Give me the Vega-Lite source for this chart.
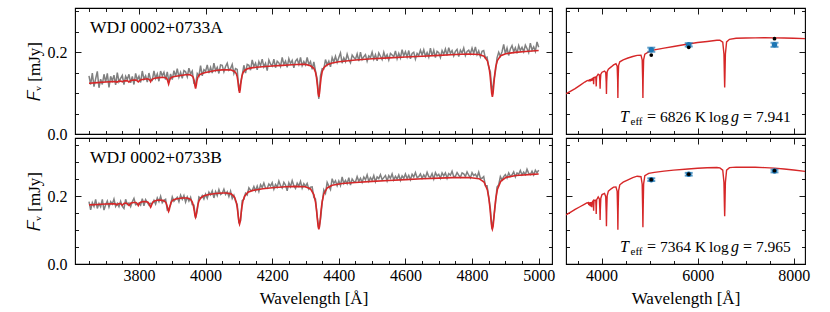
{
"$schema": "https://vega.github.io/schema/vega-lite/v6.json",
"background": "white",
"padding": {"left": 24, "top": 2, "right": 10, "bottom": 2},
"config": {
  "view": {"stroke": "#000", "strokeWidth": 1.1},
  "axis": {"grid": false, "domain": false, "ticks": true, "tickColor": "#000", "tickWidth": 0.9,
    "labelFont": "Liberation Serif", "labelFontSize": 16, "labelColor": "#000",
    "titleFont": "Liberation Serif", "titleFontSize": 17, "titleFontWeight": "normal", "titleColor": "#000",
    "labelFlush": false, "labelOverlap": false},
  "text": {"font": "Liberation Serif", "color": "#000"}
},
"datasets": {
"specA": [{"w":3650,"f":0.142},{"w":3655,"f":0.121},{"w":3660,"f":0.149},{"w":3665,"f":0.116},{"w":3670,"f":0.135},{"w":3675,"f":0.153},{"w":3680,"f":0.113},{"w":3685,"f":0.134},{"w":3690,"f":0.121},{"w":3695,"f":0.146},
{"w":3700,"f":0.127},{"w":3705,"f":0.148},{"w":3710,"f":0.114},{"w":3715,"f":0.141},{"w":3720,"f":0.130},{"w":3725,"f":0.144},{"w":3730,"f":0.120},{"w":3735,"f":0.150},{"w":3740,"f":0.128},{"w":3745,"f":0.136},
{"w":3750,"f":0.143},{"w":3755,"f":0.121},{"w":3760,"f":0.141},{"w":3765,"f":0.133},{"w":3770,"f":0.146},{"w":3775,"f":0.125},{"w":3780,"f":0.141},{"w":3785,"f":0.121},{"w":3790,"f":0.148},{"w":3795,"f":0.132},
{"w":3800,"f":0.141},{"w":3805,"f":0.126},{"w":3810,"f":0.154},{"w":3815,"f":0.134},{"w":3820,"f":0.142},{"w":3825,"f":0.127},{"w":3830,"f":0.149},{"w":3835,"f":0.133},{"w":3840,"f":0.131},{"w":3845,"f":0.154},
{"w":3850,"f":0.136},{"w":3855,"f":0.147},{"w":3860,"f":0.129},{"w":3865,"f":0.154},{"w":3870,"f":0.142},{"w":3875,"f":0.151},{"w":3880,"f":0.133},{"w":3885,"f":0.152},{"w":3890,"f":0.127},{"w":3895,"f":0.147},
{"w":3900,"f":0.133},{"w":3905,"f":0.155},{"w":3910,"f":0.141},{"w":3915,"f":0.160},{"w":3920,"f":0.139},{"w":3925,"f":0.151},{"w":3930,"f":0.136},{"w":3935,"f":0.155},{"w":3940,"f":0.152},{"w":3945,"f":0.140},
{"w":3950,"f":0.161},{"w":3955,"f":0.147},{"w":3960,"f":0.154},{"w":3965,"f":0.124},{"w":3970,"f":0.121},{"w":3975,"f":0.148},{"w":3980,"f":0.142},{"w":3985,"f":0.167},{"w":3990,"f":0.142},{"w":3995,"f":0.157},
{"w":4000,"f":0.153},{"w":4005,"f":0.169},{"w":4010,"f":0.149},{"w":4015,"f":0.163},{"w":4020,"f":0.149},{"w":4025,"f":0.173},{"w":4030,"f":0.155},{"w":4035,"f":0.163},{"w":4040,"f":0.148},{"w":4045,"f":0.169},
{"w":4050,"f":0.168},{"w":4055,"f":0.152},{"w":4060,"f":0.165},{"w":4065,"f":0.173},{"w":4070,"f":0.156},{"w":4075,"f":0.160},{"w":4080,"f":0.170},{"w":4085,"f":0.148},{"w":4090,"f":0.160},{"w":4095,"f":0.158},
{"w":4100,"f":0.106},{"w":4105,"f":0.124},{"w":4110,"f":0.144},{"w":4115,"f":0.168},{"w":4120,"f":0.149},{"w":4125,"f":0.170},{"w":4130,"f":0.168},{"w":4135,"f":0.156},{"w":4140,"f":0.181},{"w":4145,"f":0.165},
{"w":4150,"f":0.173},{"w":4155,"f":0.157},{"w":4160,"f":0.177},{"w":4165,"f":0.167},{"w":4170,"f":0.183},{"w":4175,"f":0.164},{"w":4180,"f":0.173},{"w":4185,"f":0.155},{"w":4190,"f":0.181},{"w":4195,"f":0.171},
{"w":4200,"f":0.166},{"w":4205,"f":0.183},{"w":4210,"f":0.162},{"w":4215,"f":0.178},{"w":4220,"f":0.174},{"w":4225,"f":0.165},{"w":4230,"f":0.187},{"w":4235,"f":0.170},{"w":4240,"f":0.178},{"w":4245,"f":0.163},
{"w":4250,"f":0.184},{"w":4255,"f":0.172},{"w":4260,"f":0.180},{"w":4265,"f":0.162},{"w":4270,"f":0.178},{"w":4275,"f":0.183},{"w":4280,"f":0.170},{"w":4285,"f":0.187},{"w":4290,"f":0.167},{"w":4295,"f":0.177},
{"w":4300,"f":0.169},{"w":4305,"f":0.187},{"w":4310,"f":0.170},{"w":4315,"f":0.177},{"w":4320,"f":0.158},{"w":4325,"f":0.176},{"w":4330,"f":0.154},{"w":4335,"f":0.134},{"w":4340,"f":0.086},{"w":4345,"f":0.143},
{"w":4350,"f":0.160},{"w":4355,"f":0.159},{"w":4360,"f":0.182},{"w":4365,"f":0.169},{"w":4370,"f":0.178},{"w":4375,"f":0.164},{"w":4380,"f":0.187},{"w":4385,"f":0.176},{"w":4390,"f":0.190},{"w":4395,"f":0.175},
{"w":4400,"f":0.187},{"w":4405,"f":0.198},{"w":4410,"f":0.173},{"w":4415,"f":0.186},{"w":4420,"f":0.177},{"w":4425,"f":0.195},{"w":4430,"f":0.182},{"w":4435,"f":0.174},{"w":4440,"f":0.193},{"w":4445,"f":0.187},
{"w":4450,"f":0.183},{"w":4455,"f":0.196},{"w":4460,"f":0.178},{"w":4465,"f":0.200},{"w":4470,"f":0.182},{"w":4475,"f":0.189},{"w":4480,"f":0.194},{"w":4485,"f":0.178},{"w":4490,"f":0.191},{"w":4495,"f":0.187},
{"w":4500,"f":0.200},{"w":4505,"f":0.183},{"w":4510,"f":0.194},{"w":4515,"f":0.179},{"w":4520,"f":0.198},{"w":4525,"f":0.190},{"w":4530,"f":0.182},{"w":4535,"f":0.200},{"w":4540,"f":0.186},{"w":4545,"f":0.194},
{"w":4550,"f":0.181},{"w":4555,"f":0.197},{"w":4560,"f":0.193},{"w":4565,"f":0.189},{"w":4570,"f":0.203},{"w":4575,"f":0.184},{"w":4580,"f":0.197},{"w":4585,"f":0.186},{"w":4590,"f":0.206},{"w":4595,"f":0.191},
{"w":4600,"f":0.201},{"w":4605,"f":0.188},{"w":4610,"f":0.204},{"w":4615,"f":0.184},{"w":4620,"f":0.197},{"w":4625,"f":0.200},{"w":4630,"f":0.183},{"w":4635,"f":0.197},{"w":4640,"f":0.192},{"w":4645,"f":0.205},
{"w":4650,"f":0.193},{"w":4655,"f":0.206},{"w":4660,"f":0.190},{"w":4665,"f":0.199},{"w":4670,"f":0.188},{"w":4675,"f":0.210},{"w":4680,"f":0.191},{"w":4685,"f":0.205},{"w":4690,"f":0.187},{"w":4695,"f":0.202},
{"w":4700,"f":0.199},{"w":4705,"f":0.187},{"w":4710,"f":0.204},{"w":4715,"f":0.195},{"w":4720,"f":0.208},{"w":4725,"f":0.192},{"w":4730,"f":0.211},{"w":4735,"f":0.197},{"w":4740,"f":0.204},{"w":4745,"f":0.191},
{"w":4750,"f":0.202},{"w":4755,"f":0.207},{"w":4760,"f":0.189},{"w":4765,"f":0.205},{"w":4770,"f":0.198},{"w":4775,"f":0.210},{"w":4780,"f":0.192},{"w":4785,"f":0.202},{"w":4790,"f":0.205},{"w":4795,"f":0.196},
{"w":4800,"f":0.210},{"w":4805,"f":0.197},{"w":4810,"f":0.213},{"w":4815,"f":0.194},{"w":4820,"f":0.203},{"w":4825,"f":0.189},{"w":4830,"f":0.202},{"w":4835,"f":0.204},{"w":4840,"f":0.186},{"w":4845,"f":0.188},
{"w":4850,"f":0.163},{"w":4855,"f":0.152},{"w":4860,"f":0.098},{"w":4865,"f":0.129},{"w":4870,"f":0.152},{"w":4875,"f":0.186},{"w":4880,"f":0.200},{"w":4885,"f":0.190},{"w":4890,"f":0.201},{"w":4895,"f":0.219},
{"w":4900,"f":0.196},{"w":4905,"f":0.210},{"w":4910,"f":0.192},{"w":4915,"f":0.208},{"w":4920,"f":0.216},{"w":4925,"f":0.201},{"w":4930,"f":0.211},{"w":4935,"f":0.197},{"w":4940,"f":0.216},{"w":4945,"f":0.204},
{"w":4950,"f":0.212},{"w":4955,"f":0.201},{"w":4960,"f":0.217},{"w":4965,"f":0.209},{"w":4970,"f":0.199},{"w":4975,"f":0.222},{"w":4980,"f":0.205},{"w":4985,"f":0.213},{"w":4990,"f":0.202},{"w":4995,"f":0.225},
{"w":5000,"f":0.212}],
"modA": [{"w":3650,"m":0.124},{"w":3675,"m":0.1255},{"w":3700,"m":0.127},{"w":3720,"m":0.128},{"w":3730,"m":0.1283},{"w":3734,"m":0.1265},{"w":3738,"m":0.1287},{"w":3746,"m":0.1292},{"w":3750,"m":0.1275},{"w":3754,"m":0.1297},{"w":3764,"m":0.1305},{"w":3768,"m":0.1287},{"w":3770,"m":0.127},{"w":3772,"m":0.1288},{"w":3776,"m":0.1308},{"w":3785,"m":0.1318},{"w":3792,"m":0.1318},{"w":3795,"m":0.1296},{"w":3798,"m":0.1273},{"w":3801,"m":0.1298},{"w":3806,"m":0.1326},{"w":3815,"m":0.1337},{"w":3825,"m":0.1349},{"w":3831,"m":0.1335},{"w":3833,"m":0.1308},{"w":3835,"m":0.1278},{"w":3837,"m":0.1308},{"w":3839,"m":0.1336},{"w":3847,"m":0.1363},{"w":3860,"m":0.1378},{"w":3872,"m":0.1386},{"w":3882,"m":0.1367},{"w":3885,"m":0.1333},{"w":3887,"m":0.1274},{"w":3889,"m":0.1218},{"w":3891,"m":0.1276},{"w":3893,"m":0.1336},{"w":3896,"m":0.1375},{"w":3903,"m":0.1398},{"w":3920,"m":0.1422},{"w":3940,"m":0.1448},{"w":3950,"m":0.1453},{"w":3958,"m":0.1432},{"w":3963,"m":0.1385},{"w":3966,"m":0.1295},{"w":3968,"m":0.1184},{"w":3970,"m":0.111},{"w":3972,"m":0.1186},{"w":3974,"m":0.1298},{"w":3977,"m":0.1392},{"w":3982,"m":0.1448},{"w":3990,"m":0.1478},{"w":4000,"m":0.1502},{"w":4015,"m":0.1528},{"w":4030,"m":0.1552},{"w":4050,"m":0.1568},{"w":4065,"m":0.1572},{"w":4077,"m":0.1565},{"w":4087,"m":0.1528},{"w":4092,"m":0.1478},{"w":4095,"m":0.1398},{"w":4098,"m":0.1238},{"w":4100,"m":0.109},{"w":4102,"m":0.1008},{"w":4104,"m":0.1092},{"w":4106,"m":0.1244},{"w":4109,"m":0.1408},{"w":4112,"m":0.1492},{"w":4117,"m":0.1553},{"w":4127,"m":0.1598},{"w":4142,"m":0.1622},{"w":4170,"m":0.1645},{"w":4200,"m":0.1662},{"w":4230,"m":0.1677},{"w":4260,"m":0.1693},{"w":4285,"m":0.1705},{"w":4300,"m":0.1702},{"w":4315,"m":0.1668},{"w":4325,"m":0.1607},{"w":4330,"m":0.1508},{"w":4333,"m":0.1378},{"w":4336,"m":0.1162},{"w":4338,"m":0.0995},{"w":4340,"m":0.091},{"w":4342,"m":0.0998},{"w":4344,"m":0.1168},{"w":4347,"m":0.1387},{"w":4350,"m":0.1522},{"w":4355,"m":0.1622},{"w":4365,"m":0.1692},{"w":4380,"m":0.1735},{"w":4400,"m":0.1768},{"w":4450,"m":0.1808},{"w":4500,"m":0.1838},{"w":4550,"m":0.1862},{"w":4600,"m":0.1882},{"w":4650,"m":0.1902},{"w":4700,"m":0.1922},{"w":4750,"m":0.1942},{"w":4790,"m":0.1955},{"w":4821,"m":0.1945},{"w":4836,"m":0.1902},{"w":4846,"m":0.1789},{"w":4851,"m":0.1628},{"w":4854,"m":0.1445},{"w":4857,"m":0.1174},{"w":4859,"m":0.0992},{"w":4861,"m":0.091},{"w":4863,"m":0.0995},{"w":4865,"m":0.1178},{"w":4868,"m":0.145},{"w":4871,"m":0.1635},{"w":4876,"m":0.1797},{"w":4886,"m":0.1915},{"w":4901,"m":0.1962},{"w":4930,"m":0.1995},{"w":4960,"m":0.2017},{"w":5000,"m":0.204}],
"specB": [{"w":3650,"f":0.184},{"w":3655,"f":0.160},{"w":3660,"f":0.181},{"w":3665,"f":0.170},{"w":3670,"f":0.191},{"w":3675,"f":0.164},{"w":3680,"f":0.179},{"w":3685,"f":0.169},{"w":3690,"f":0.191},{"w":3695,"f":0.159},
{"w":3700,"f":0.175},{"w":3705,"f":0.186},{"w":3710,"f":0.168},{"w":3715,"f":0.184},{"w":3720,"f":0.177},{"w":3725,"f":0.192},{"w":3730,"f":0.170},{"w":3735,"f":0.179},{"w":3740,"f":0.169},{"w":3745,"f":0.185},
{"w":3750,"f":0.170},{"w":3755,"f":0.164},{"w":3760,"f":0.191},{"w":3765,"f":0.176},{"w":3770,"f":0.180},{"w":3775,"f":0.169},{"w":3780,"f":0.184},{"w":3785,"f":0.194},{"w":3790,"f":0.175},{"w":3795,"f":0.177},
{"w":3800,"f":0.180},{"w":3805,"f":0.174},{"w":3810,"f":0.193},{"w":3815,"f":0.172},{"w":3820,"f":0.190},{"w":3825,"f":0.182},{"w":3830,"f":0.174},{"w":3835,"f":0.179},{"w":3840,"f":0.178},{"w":3845,"f":0.188},
{"w":3850,"f":0.177},{"w":3855,"f":0.195},{"w":3860,"f":0.184},{"w":3865,"f":0.200},{"w":3870,"f":0.181},{"w":3875,"f":0.188},{"w":3880,"f":0.191},{"w":3885,"f":0.160},{"w":3890,"f":0.164},{"w":3895,"f":0.175},
{"w":3900,"f":0.198},{"w":3905,"f":0.185},{"w":3910,"f":0.191},{"w":3915,"f":0.197},{"w":3920,"f":0.184},{"w":3925,"f":0.203},{"w":3930,"f":0.191},{"w":3935,"f":0.202},{"w":3940,"f":0.183},{"w":3945,"f":0.198},
{"w":3950,"f":0.186},{"w":3955,"f":0.197},{"w":3960,"f":0.175},{"w":3965,"f":0.174},{"w":3970,"f":0.136},{"w":3975,"f":0.159},{"w":3980,"f":0.198},{"w":3985,"f":0.194},{"w":3990,"f":0.202},{"w":3995,"f":0.192},
{"w":4000,"f":0.206},{"w":4005,"f":0.194},{"w":4010,"f":0.212},{"w":4015,"f":0.204},{"w":4020,"f":0.216},{"w":4025,"f":0.195},{"w":4030,"f":0.214},{"w":4035,"f":0.202},{"w":4040,"f":0.220},{"w":4045,"f":0.205},
{"w":4050,"f":0.209},{"w":4055,"f":0.221},{"w":4060,"f":0.205},{"w":4065,"f":0.213},{"w":4070,"f":0.199},{"w":4075,"f":0.215},{"w":4080,"f":0.193},{"w":4085,"f":0.203},{"w":4090,"f":0.185},{"w":4095,"f":0.176},
{"w":4100,"f":0.123},{"w":4105,"f":0.127},{"w":4110,"f":0.187},{"w":4115,"f":0.191},{"w":4120,"f":0.209},{"w":4125,"f":0.204},{"w":4130,"f":0.225},{"w":4135,"f":0.218},{"w":4140,"f":0.217},{"w":4145,"f":0.229},
{"w":4150,"f":0.216},{"w":4155,"f":0.230},{"w":4160,"f":0.214},{"w":4165,"f":0.234},{"w":4170,"f":0.226},{"w":4175,"f":0.239},{"w":4180,"f":0.224},{"w":4185,"f":0.223},{"w":4190,"f":0.236},{"w":4195,"f":0.230},
{"w":4200,"f":0.240},{"w":4205,"f":0.221},{"w":4210,"f":0.235},{"w":4215,"f":0.227},{"w":4220,"f":0.245},{"w":4225,"f":0.231},{"w":4230,"f":0.224},{"w":4235,"f":0.241},{"w":4240,"f":0.233},{"w":4245,"f":0.216},
{"w":4250,"f":0.240},{"w":4255,"f":0.228},{"w":4260,"f":0.246},{"w":4265,"f":0.231},{"w":4270,"f":0.223},{"w":4275,"f":0.239},{"w":4280,"f":0.230},{"w":4285,"f":0.244},{"w":4290,"f":0.224},{"w":4295,"f":0.237},
{"w":4300,"f":0.229},{"w":4305,"f":0.238},{"w":4310,"f":0.221},{"w":4315,"f":0.227},{"w":4320,"f":0.228},{"w":4325,"f":0.197},{"w":4330,"f":0.192},{"w":4335,"f":0.141},{"w":4340,"f":0.106},{"w":4345,"f":0.131},
{"w":4350,"f":0.180},{"w":4355,"f":0.219},{"w":4360,"f":0.209},{"w":4365,"f":0.241},{"w":4370,"f":0.230},{"w":4375,"f":0.220},{"w":4380,"f":0.252},{"w":4385,"f":0.238},{"w":4390,"f":0.246},{"w":4395,"f":0.231},
{"w":4400,"f":0.245},{"w":4405,"f":0.232},{"w":4410,"f":0.257},{"w":4415,"f":0.238},{"w":4420,"f":0.247},{"w":4425,"f":0.237},{"w":4430,"f":0.255},{"w":4435,"f":0.233},{"w":4440,"f":0.251},{"w":4445,"f":0.244},
{"w":4450,"f":0.242},{"w":4455,"f":0.258},{"w":4460,"f":0.244},{"w":4465,"f":0.253},{"w":4470,"f":0.241},{"w":4475,"f":0.257},{"w":4480,"f":0.249},{"w":4485,"f":0.263},{"w":4490,"f":0.244},{"w":4495,"f":0.255},
{"w":4500,"f":0.247},{"w":4505,"f":0.261},{"w":4510,"f":0.243},{"w":4515,"f":0.257},{"w":4520,"f":0.252},{"w":4525,"f":0.264},{"w":4530,"f":0.249},{"w":4535,"f":0.255},{"w":4540,"f":0.261},{"w":4545,"f":0.245},
{"w":4550,"f":0.261},{"w":4555,"f":0.253},{"w":4560,"f":0.266},{"w":4565,"f":0.248},{"w":4570,"f":0.259},{"w":4575,"f":0.251},{"w":4580,"f":0.263},{"w":4585,"f":0.247},{"w":4590,"f":0.260},{"w":4595,"f":0.253},
{"w":4600,"f":0.266},{"w":4605,"f":0.252},{"w":4610,"f":0.262},{"w":4615,"f":0.249},{"w":4620,"f":0.265},{"w":4625,"f":0.257},{"w":4630,"f":0.270},{"w":4635,"f":0.255},{"w":4640,"f":0.258},{"w":4645,"f":0.266},
{"w":4650,"f":0.253},{"w":4655,"f":0.263},{"w":4660,"f":0.255},{"w":4665,"f":0.271},{"w":4670,"f":0.258},{"w":4675,"f":0.256},{"w":4680,"f":0.267},{"w":4685,"f":0.251},{"w":4690,"f":0.270},{"w":4695,"f":0.260},
{"w":4700,"f":0.265},{"w":4705,"f":0.253},{"w":4710,"f":0.269},{"w":4715,"f":0.260},{"w":4720,"f":0.269},{"w":4725,"f":0.253},{"w":4730,"f":0.267},{"w":4735,"f":0.262},{"w":4740,"f":0.274},{"w":4745,"f":0.258},
{"w":4750,"f":0.259},{"w":4755,"f":0.270},{"w":4760,"f":0.262},{"w":4765,"f":0.256},{"w":4770,"f":0.269},{"w":4775,"f":0.266},{"w":4780,"f":0.258},{"w":4785,"f":0.272},{"w":4790,"f":0.262},{"w":4795,"f":0.254},
{"w":4800,"f":0.270},{"w":4805,"f":0.261},{"w":4810,"f":0.265},{"w":4815,"f":0.256},{"w":4820,"f":0.271},{"w":4825,"f":0.253},{"w":4830,"f":0.253},{"w":4835,"f":0.258},{"w":4840,"f":0.231},{"w":4845,"f":0.231},
{"w":4850,"f":0.199},{"w":4855,"f":0.163},{"w":4860,"f":0.103},{"w":4865,"f":0.135},{"w":4870,"f":0.177},{"w":4875,"f":0.227},{"w":4880,"f":0.234},{"w":4885,"f":0.258},{"w":4890,"f":0.248},{"w":4895,"f":0.258},
{"w":4900,"f":0.264},{"w":4905,"f":0.254},{"w":4910,"f":0.269},{"w":4915,"f":0.259},{"w":4920,"f":0.263},{"w":4925,"f":0.272},{"w":4930,"f":0.257},{"w":4935,"f":0.269},{"w":4940,"f":0.265},{"w":4945,"f":0.276},
{"w":4950,"f":0.263},{"w":4955,"f":0.271},{"w":4960,"f":0.264},{"w":4965,"f":0.280},{"w":4970,"f":0.268},{"w":4975,"f":0.264},{"w":4980,"f":0.274},{"w":4985,"f":0.263},{"w":4990,"f":0.277},{"w":4995,"f":0.269},
{"w":5000,"f":0.277}],
"modB": [{"w":3650,"m":0.1745},{"w":3675,"m":0.1758},{"w":3700,"m":0.1772},{"w":3718,"m":0.178},{"w":3728,"m":0.1774},{"w":3731,"m":0.1763},{"w":3734,"m":0.1746},{"w":3737,"m":0.1768},{"w":3740,"m":0.1783},{"w":3745,"m":0.1779},{"w":3748,"m":0.1754},{"w":3750,"m":0.1737},{"w":3752,"m":0.1756},{"w":3755,"m":0.1785},{"w":3760,"m":0.18},{"w":3764,"m":0.1789},{"w":3767,"m":0.1756},{"w":3770,"m":0.173},{"w":3773,"m":0.176},{"w":3776,"m":0.1799},{"w":3784,"m":0.1815},{"w":3791,"m":0.1816},{"w":3794,"m":0.1795},{"w":3796,"m":0.1761},{"w":3798,"m":0.1727},{"w":3800,"m":0.1764},{"w":3802,"m":0.1801},{"w":3805,"m":0.1827},{"w":3813,"m":0.1845},{"w":3823,"m":0.184},{"w":3828,"m":0.1816},{"w":3831,"m":0.1769},{"w":3833,"m":0.1712},{"w":3835,"m":0.1675},{"w":3837,"m":0.1716},{"w":3839,"m":0.1777},{"w":3842,"m":0.1829},{"w":3847,"m":0.1862},{"w":3855,"m":0.1882},{"w":3864,"m":0.1885},{"w":3874,"m":0.1871},{"w":3879,"m":0.1839},{"w":3882,"m":0.1791},{"w":3885,"m":0.1693},{"w":3887,"m":0.1601},{"w":3889,"m":0.1551},{"w":3891,"m":0.1604},{"w":3893,"m":0.17},{"w":3896,"m":0.1805},{"w":3899,"m":0.1859},{"w":3904,"m":0.19},{"w":3914,"m":0.1928},{"w":3930,"m":0.195},{"w":3945,"m":0.195},{"w":3955,"m":0.1908},{"w":3960,"m":0.1836},{"w":3963,"m":0.1738},{"w":3966,"m":0.1572},{"w":3968,"m":0.1441},{"w":3970,"m":0.138},{"w":3972,"m":0.1445},{"w":3974,"m":0.1579},{"w":3977,"m":0.1754},{"w":3980,"m":0.1859},{"w":3985,"m":0.1946},{"w":3995,"m":0.2014},{"w":4010,"m":0.2053},{"w":4030,"m":0.2082},{"w":4050,"m":0.2098},{"w":4062,"m":0.2098},{"w":4077,"m":0.2071},{"w":4087,"m":0.1975},{"w":4092,"m":0.1833},{"w":4095,"m":0.1668},{"w":4098,"m":0.1419},{"w":4100,"m":0.1252},{"w":4102,"m":0.1179},{"w":4104,"m":0.1255},{"w":4106,"m":0.1424},{"w":4109,"m":0.1678},{"w":4112,"m":0.185},{"w":4117,"m":0.2002},{"w":4127,"m":0.2118},{"w":4142,"m":0.2173},{"w":4172,"m":0.222},{"w":4200,"m":0.2251},{"w":4240,"m":0.2279},{"w":4270,"m":0.2292},{"w":4300,"m":0.2279},{"w":4315,"m":0.2216},{"w":4325,"m":0.2052},{"w":4330,"m":0.183},{"w":4333,"m":0.1598},{"w":4336,"m":0.1289},{"w":4338,"m":0.1101},{"w":4340,"m":0.1024},{"w":4342,"m":0.1102},{"w":4344,"m":0.1291},{"w":4347,"m":0.1603},{"w":4350,"m":0.184},{"w":4355,"m":0.2068},{"w":4365,"m":0.2245},{"w":4380,"m":0.2326},{"w":4410,"m":0.2378},{"w":4450,"m":0.2408},{"w":4500,"m":0.244},{"w":4550,"m":0.2465},{"w":4600,"m":0.249},{"w":4650,"m":0.2515},{"w":4700,"m":0.2535},{"w":4741,"m":0.2549},{"w":4791,"m":0.2555},{"w":4821,"m":0.2519},{"w":4836,"m":0.242},{"w":4846,"m":0.2188},{"w":4851,"m":0.1901},{"w":4854,"m":0.1625},{"w":4857,"m":0.1291},{"w":4859,"m":0.1104},{"w":4861,"m":0.1031},{"w":4863,"m":0.1105},{"w":4865,"m":0.1293},{"w":4868,"m":0.1629},{"w":4871,"m":0.1907},{"w":4876,"m":0.2199},{"w":4886,"m":0.244},{"w":4901,"m":0.2552},{"w":4931,"m":0.2612},{"w":4981,"m":0.2647},{"w":5000,"m":0.2656}],
"sedA": [{"w":3260,"m":0.098},{"w":3350,"m":0.104},{"w":3450,"m":0.111},{"w":3550,"m":0.119},{"w":3650,"m":0.127},{"w":3700,"m":0.1305},{"w":3730,"m":0.1313},{"w":3734,"m":0.1287},{"w":3738,"m":0.1315},{"w":3746,"m":0.1319},{"w":3750,"m":0.1286},{"w":3754,"m":0.1324},{"w":3767,"m":0.1328},{"w":3771,"m":0.1287},{"w":3775,"m":0.1334},{"w":3794,"m":0.1344},{"w":3798,"m":0.1298},{"w":3802,"m":0.1349},{"w":3825,"m":0.1368},{"w":3831,"m":0.1306},{"w":3835,"m":0.1218},{"w":3839,"m":0.1312},{"w":3845,"m":0.1382},{"w":3879,"m":0.1393},{"w":3885,"m":0.1298},{"w":3889,"m":0.1164},{"w":3893,"m":0.1303},{"w":3899,"m":0.1406},{"w":3930,"m":0.146},{"w":3955,"m":0.1445},{"w":3965,"m":0.1297},{"w":3970,"m":0.1106},{"w":3975,"m":0.1302},{"w":3985,"m":0.1464},{"w":4010,"m":0.151},{"w":4062,"m":0.1538},{"w":4087,"m":0.1503},{"w":4097,"m":0.1273},{"w":4102,"m":0.098},{"w":4107,"m":0.1278},{"w":4117,"m":0.1521},{"w":4142,"m":0.1585},{"w":4200,"m":0.164},{"w":4250,"m":0.169},{"w":4300,"m":0.1717},{"w":4325,"m":0.1658},{"w":4335,"m":0.1314},{"w":4340,"m":0.0878},{"w":4345,"m":0.1319},{"w":4355,"m":0.1677},{"w":4380,"m":0.1765},{"w":4450,"m":0.1813},{"w":4550,"m":0.1857},{"w":4650,"m":0.1895},{"w":4741,"m":0.1921},{"w":4821,"m":0.1928},{"w":4846,"m":0.181},{"w":4856,"m":0.1323},{"w":4861,"m":0.0878},{"w":4866,"m":0.1326},{"w":4876,"m":0.182},{"w":4901,"m":0.1953},{"w":4981,"m":0.2006},{"w":5100,"m":0.2055},{"w":5300,"m":0.21},{"w":5500,"m":0.214},{"w":5800,"m":0.22},{"w":6000,"m":0.2235},{"w":6200,"m":0.226},{"w":6400,"m":0.229},{"w":6463,"m":0.2293},{"w":6523,"m":0.2244},{"w":6548,"m":0.1953},{"w":6558,"m":0.1374},{"w":6563,"m":0.1138},{"w":6568,"m":0.1375},{"w":6578,"m":0.1955},{"w":6603,"m":0.2251},{"w":6663,"m":0.2314},{"w":6800,"m":0.234},{"w":7000,"m":0.2348},{"w":7200,"m":0.235},{"w":7400,"m":0.2352},{"w":7600,"m":0.235},{"w":7800,"m":0.2345},{"w":8000,"m":0.234},{"w":8240,"m":0.233}],
"sedB": [{"w":3260,"m":0.145},{"w":3350,"m":0.1527},{"w":3450,"m":0.161},{"w":3550,"m":0.169},{"w":3650,"m":0.177},{"w":3700,"m":0.181},{"w":3730,"m":0.1801},{"w":3734,"m":0.1745},{"w":3738,"m":0.1807},{"w":3746,"m":0.18},{"w":3750,"m":0.1721},{"w":3754,"m":0.1806},{"w":3767,"m":0.1804},{"w":3771,"m":0.1699},{"w":3775,"m":0.1809},{"w":3794,"m":0.1808},{"w":3798,"m":0.1673},{"w":3802,"m":0.1814},{"w":3825,"m":0.1863},{"w":3831,"m":0.1743},{"w":3835,"m":0.1573},{"w":3839,"m":0.1748},{"w":3845,"m":0.1878},{"w":3879,"m":0.1887},{"w":3885,"m":0.1717},{"w":3889,"m":0.1479},{"w":3893,"m":0.1722},{"w":3899,"m":0.1902},{"w":3930,"m":0.1981},{"w":3955,"m":0.1919},{"w":3965,"m":0.1597},{"w":3970,"m":0.1301},{"w":3975,"m":0.1604},{"w":3985,"m":0.1944},{"w":4010,"m":0.2051},{"w":4062,"m":0.2086},{"w":4087,"m":0.1986},{"w":4097,"m":0.153},{"w":4102,"m":0.1112},{"w":4107,"m":0.1536},{"w":4117,"m":0.201},{"w":4142,"m":0.215},{"w":4200,"m":0.222},{"w":4250,"m":0.227},{"w":4300,"m":0.2276},{"w":4325,"m":0.2143},{"w":4335,"m":0.1553},{"w":4340,"m":0.1012},{"w":4345,"m":0.1558},{"w":4355,"m":0.2165},{"w":4380,"m":0.2339},{"w":4450,"m":0.2418},{"w":4550,"m":0.2483},{"w":4650,"m":0.2548},{"w":4741,"m":0.2592},{"w":4821,"m":0.2578},{"w":4846,"m":0.2355},{"w":4856,"m":0.1607},{"w":4861,"m":0.1082},{"w":4866,"m":0.1609},{"w":4876,"m":0.2365},{"w":4901,"m":0.2606},{"w":4981,"m":0.2678},{"w":5100,"m":0.2706},{"w":5300,"m":0.2743},{"w":5500,"m":0.2773},{"w":5800,"m":0.2805},{"w":6000,"m":0.2825},{"w":6200,"m":0.284},{"w":6400,"m":0.285},{"w":6463,"m":0.2839},{"w":6523,"m":0.277},{"w":6548,"m":0.241},{"w":6558,"m":0.1699},{"w":6563,"m":0.1411},{"w":6568,"m":0.1699},{"w":6578,"m":0.2411},{"w":6603,"m":0.2772},{"w":6663,"m":0.2844},{"w":6800,"m":0.286},{"w":7000,"m":0.2858},{"w":7200,"m":0.2855},{"w":7400,"m":0.2845},{"w":7600,"m":0.283},{"w":7800,"m":0.2805},{"w":8000,"m":0.2775},{"w":8240,"m":0.2735}],
"photA": [{"w":5035,"obs":0.206,"err":0.005,"syn":0.193},{"w":5815,"obs":0.218,"err":0.004,"syn":0.212},{"w":7600,"obs":0.218,"err":0.005,"syn":0.233}],
"photB": [{"w":5035,"obs":0.249,"err":0.004,"syn":0.249},{"w":5815,"obs":0.265,"err":0.004,"syn":0.265},{"w":7600,"obs":0.2745,"err":0.004,"syn":0.2755}]
},
"columns": 2,
"spacing": {"row": 4, "column": 14},
"bounds": "flush",
"concat": [
{"width": 477, "height": 126, "layer": [
  {"data": {"name": "specA"}, "mark": {"type": "line", "color": "#808080", "strokeWidth": 1.5, "clip": true},
   "encoding": {
    "x": {"field": "w", "type": "quantitative", "scale": {"domain": [3608, 5040], "nice": false, "zero": false},
      "axis": {"orient": "bottom", "values": [3650,3700,3750,3800,3850,3900,3950,4000,4050,4100,4150,4200,4250,4300,4350,4400,4450,4500,4550,4600,4650,4700,4750,4800,4850,4900,4950,5000], "labels": false, "title": null, "tickSize": {"condition": {"test": "datum.value % 200 === 0", "value": -6}, "value": -3.5}}},
    "y": {"field": "f", "type": "quantitative", "scale": {"domain": [0, 0.308], "nice": false, "zero": false},
      "axis": {"orient": "left", "values": [0,0.05,0.1,0.15,0.2,0.25,0.3], "labelExpr": "abs(datum.value*5 - round(datum.value*5)) < 0.001 ? format(datum.value, '.1f') : ''", "labelPadding": 14, "tickSize": {"condition": {"test": "abs(datum.value*5 - round(datum.value*5)) < 0.001", "value": -6}, "value": -3.5}, "title": "𝐹ᵥ [mJy]", "titlePadding": 4}}}},
  {"data": {"name": "modA"}, "mark": {"type": "line", "color": "#d62728", "strokeWidth": 1.6, "clip": true},
   "encoding": {
    "x": {"field": "w", "type": "quantitative", "axis": {"orient": "top", "values": [3650,3700,3750,3800,3850,3900,3950,4000,4050,4100,4150,4200,4250,4300,4350,4400,4450,4500,4550,4600,4650,4700,4750,4800,4850,4900,4950,5000], "labels": false, "title": null, "tickSize": {"condition": {"test": "datum.value % 200 === 0", "value": -6}, "value": -3.5}}},
    "y": {"field": "m", "type": "quantitative", "axis": {"orient": "right", "values": [0,0.05,0.1,0.15,0.2,0.25,0.3], "labels": false, "title": null, "tickSize": {"condition": {"test": "abs(datum.value*5 - round(datum.value*5)) < 0.001", "value": -6}, "value": -3.5}}}}},
  {"data": {"values": [{}]}, "mark": {"type": "text", "text": "WDJ 0002+0733A", "align": "left", "baseline": "alphabetic", "fontSize": 17.5},
   "encoding": {"x": {"datum": 3653, "type": "quantitative", "axis": null}, "y": {"datum": 0.2462, "type": "quantitative", "axis": null}}}
]},
{"width": 239, "height": 126, "layer": [
  {"data": {"name": "sedA"}, "mark": {"type": "line", "color": "#d62728", "strokeWidth": 1.4, "clip": true},
   "encoding": {
    "x": {"field": "w", "type": "quantitative", "scale": {"domain": [3260, 8235], "nice": false, "zero": false},
      "axis": {"orient": "bottom", "values": [3500,4000,4500,5000,5500,6000,6500,7000,7500,8000], "labels": false, "title": null, "tickSize": {"condition": {"test": "datum.value % 2000 === 0", "value": -6}, "value": -3.5}}},
    "y": {"field": "m", "type": "quantitative", "scale": {"domain": [0, 0.308], "nice": false, "zero": false},
      "axis": {"orient": "left", "values": [0,0.05,0.1,0.15,0.2,0.25,0.3], "labels": false, "title": null, "tickSize": {"condition": {"test": "abs(datum.value*5 - round(datum.value*5)) < 0.001", "value": -6}, "value": -3.5}}}}},
  {"data": {"name": "photA"}, "mark": {"type": "point", "filled": true, "color": "#1f77b4", "size": 30, "opacity": 1},
   "encoding": {
    "x": {"field": "w", "type": "quantitative", "axis": {"orient": "top", "values": [3500,4000,4500,5000,5500,6000,6500,7000,7500,8000], "labels": false, "title": null, "tickSize": {"condition": {"test": "datum.value % 2000 === 0", "value": -6}, "value": -3.5}}},
    "y": {"field": "obs", "type": "quantitative", "axis": {"orient": "right", "values": [0,0.05,0.1,0.15,0.2,0.25,0.3], "labels": false, "title": null, "tickSize": {"condition": {"test": "abs(datum.value*5 - round(datum.value*5)) < 0.001", "value": -6}, "value": -3.5}}}}},
  {"data": {"name": "photA"}, "mark": {"type": "errorbar", "ticks": true, "size": 8, "thickness": 2, "color": "#1f77b4"},
   "encoding": {"x": {"field": "w", "type": "quantitative", "axis": null}, "y": {"field": "obs", "type": "quantitative", "axis": null}, "yError": {"field": "err"}}},
  {"data": {"name": "photA"}, "mark": {"type": "point", "filled": true, "color": "#000", "size": 14, "opacity": 1},
   "encoding": {"x": {"field": "w", "type": "quantitative", "axis": null}, "y": {"field": "syn", "type": "quantitative", "axis": null}}},
  {"data": {"values": [{}]}, "mark": {"type": "text", "text": "T", "fontStyle": "italic", "fontSize": 16, "align": "left", "baseline": "alphabetic"},
   "encoding": {"x": {"datum": 4384, "type": "quantitative", "axis": null}, "y": {"datum": 0.0286, "type": "quantitative", "axis": null}}},
  {"data": {"values": [{}]}, "mark": {"type": "text", "text": "eff", "fontSize": 11, "align": "left", "baseline": "alphabetic"},
   "encoding": {"x": {"datum": 4603, "type": "quantitative", "axis": null}, "y": {"datum": 0.0213, "type": "quantitative", "axis": null}}},
  {"data": {"values": [{}]}, "mark": {"type": "text", "text": "=", "fontSize": 16, "align": "left", "baseline": "alphabetic"},
   "encoding": {"x": {"datum": 4946, "type": "quantitative", "axis": null}, "y": {"datum": 0.0286, "type": "quantitative", "axis": null}}},
  {"data": {"values": [{}]}, "mark": {"type": "text", "text": "6826 K", "fontSize": 15.5, "align": "left", "baseline": "alphabetic"},
   "encoding": {"x": {"datum": 5217, "type": "quantitative", "axis": null}, "y": {"datum": 0.0286, "type": "quantitative", "axis": null}}},
  {"data": {"values": [{}]}, "mark": {"type": "text", "text": "log", "fontSize": 15.5, "align": "left", "baseline": "alphabetic"},
   "encoding": {"x": {"datum": 6237, "type": "quantitative", "axis": null}, "y": {"datum": 0.0286, "type": "quantitative", "axis": null}}},
  {"data": {"values": [{}]}, "mark": {"type": "text", "text": "g", "fontStyle": "italic", "fontSize": 16, "align": "left", "baseline": "alphabetic"},
   "encoding": {"x": {"datum": 6695, "type": "quantitative", "axis": null}, "y": {"datum": 0.0286, "type": "quantitative", "axis": null}}},
  {"data": {"values": [{}]}, "mark": {"type": "text", "text": "=", "fontSize": 16, "align": "left", "baseline": "alphabetic"},
   "encoding": {"x": {"datum": 6944, "type": "quantitative", "axis": null}, "y": {"datum": 0.0286, "type": "quantitative", "axis": null}}},
  {"data": {"values": [{}]}, "mark": {"type": "text", "text": "7.941", "fontSize": 15.5, "align": "left", "baseline": "alphabetic"},
   "encoding": {"x": {"datum": 7215, "type": "quantitative", "axis": null}, "y": {"datum": 0.0286, "type": "quantitative", "axis": null}}}
]},
{"width": 477, "height": 126, "layer": [
  {"data": {"name": "specB"}, "mark": {"type": "line", "color": "#808080", "strokeWidth": 1.5, "clip": true},
   "encoding": {
    "x": {"field": "w", "type": "quantitative", "scale": {"domain": [3608, 5040], "nice": false, "zero": false},
      "axis": {"orient": "bottom", "values": [3650,3700,3750,3800,3850,3900,3950,4000,4050,4100,4150,4200,4250,4300,4350,4400,4450,4500,4550,4600,4650,4700,4750,4800,4850,4900,4950,5000], "labelExpr": "datum.value % 200 === 0 ? format(datum.value, 'd') : ''", "labelPadding": 9, "title": "Wavelength [Å]", "titlePadding": 5, "tickSize": {"condition": {"test": "datum.value % 200 === 0", "value": -6}, "value": -3.5}}},
    "y": {"field": "f", "type": "quantitative", "scale": {"domain": [0, 0.372], "nice": false, "zero": false},
      "axis": {"orient": "left", "values": [0,0.05,0.1,0.15,0.2,0.25,0.3,0.35], "labelExpr": "abs(datum.value*5 - round(datum.value*5)) < 0.001 ? format(datum.value, '.1f') : ''", "labelPadding": 14, "tickSize": {"condition": {"test": "abs(datum.value*5 - round(datum.value*5)) < 0.001", "value": -6}, "value": -3.5}, "title": "𝐹ᵥ [mJy]", "titlePadding": 4}}}},
  {"data": {"name": "modB"}, "mark": {"type": "line", "color": "#d62728", "strokeWidth": 1.6, "clip": true},
   "encoding": {
    "x": {"field": "w", "type": "quantitative", "axis": {"orient": "top", "values": [3650,3700,3750,3800,3850,3900,3950,4000,4050,4100,4150,4200,4250,4300,4350,4400,4450,4500,4550,4600,4650,4700,4750,4800,4850,4900,4950,5000], "labels": false, "title": null, "tickSize": {"condition": {"test": "datum.value % 200 === 0", "value": -6}, "value": -3.5}}},
    "y": {"field": "m", "type": "quantitative", "axis": {"orient": "right", "values": [0,0.05,0.1,0.15,0.2,0.25,0.3,0.35], "labels": false, "title": null, "tickSize": {"condition": {"test": "abs(datum.value*5 - round(datum.value*5)) < 0.001", "value": -6}, "value": -3.5}}}}},
  {"data": {"values": [{}]}, "mark": {"type": "text", "text": "WDJ 0002+0733B", "align": "left", "baseline": "alphabetic", "fontSize": 17.5},
   "encoding": {"x": {"datum": 3653, "type": "quantitative", "axis": null}, "y": {"datum": 0.2982, "type": "quantitative", "axis": null}}}
]},
{"width": 239, "height": 126, "layer": [
  {"data": {"name": "sedB"}, "mark": {"type": "line", "color": "#d62728", "strokeWidth": 1.4, "clip": true},
   "encoding": {
    "x": {"field": "w", "type": "quantitative", "scale": {"domain": [3260, 8235], "nice": false, "zero": false},
      "axis": {"orient": "bottom", "values": [3500,4000,4500,5000,5500,6000,6500,7000,7500,8000], "labelExpr": "datum.value % 2000 === 0 ? format(datum.value, 'd') : ''", "labelPadding": 9, "title": "Wavelength [Å]", "titlePadding": 5, "tickSize": {"condition": {"test": "datum.value % 2000 === 0", "value": -6}, "value": -3.5}}},
    "y": {"field": "m", "type": "quantitative", "scale": {"domain": [0, 0.372], "nice": false, "zero": false},
      "axis": {"orient": "left", "values": [0,0.05,0.1,0.15,0.2,0.25,0.3,0.35], "labels": false, "title": null, "tickSize": {"condition": {"test": "abs(datum.value*5 - round(datum.value*5)) < 0.001", "value": -6}, "value": -3.5}}}}},
  {"data": {"name": "photB"}, "mark": {"type": "point", "filled": true, "color": "#1f77b4", "size": 30, "opacity": 1},
   "encoding": {
    "x": {"field": "w", "type": "quantitative", "axis": {"orient": "top", "values": [3500,4000,4500,5000,5500,6000,6500,7000,7500,8000], "labels": false, "title": null, "tickSize": {"condition": {"test": "datum.value % 2000 === 0", "value": -6}, "value": -3.5}}},
    "y": {"field": "obs", "type": "quantitative", "axis": {"orient": "right", "values": [0,0.05,0.1,0.15,0.2,0.25,0.3,0.35], "labels": false, "title": null, "tickSize": {"condition": {"test": "abs(datum.value*5 - round(datum.value*5)) < 0.001", "value": -6}, "value": -3.5}}}}},
  {"data": {"name": "photB"}, "mark": {"type": "errorbar", "ticks": true, "size": 8, "thickness": 2, "color": "#1f77b4"},
   "encoding": {"x": {"field": "w", "type": "quantitative", "axis": null}, "y": {"field": "obs", "type": "quantitative", "axis": null}, "yError": {"field": "err"}}},
  {"data": {"name": "photB"}, "mark": {"type": "point", "filled": true, "color": "#000", "size": 14, "opacity": 1},
   "encoding": {"x": {"field": "w", "type": "quantitative", "axis": null}, "y": {"field": "syn", "type": "quantitative", "axis": null}}},
  {"data": {"values": [{}]}, "mark": {"type": "text", "text": "T", "fontStyle": "italic", "fontSize": 16, "align": "left", "baseline": "alphabetic"},
   "encoding": {"x": {"datum": 4384, "type": "quantitative", "axis": null}, "y": {"datum": 0.0363, "type": "quantitative", "axis": null}}},
  {"data": {"values": [{}]}, "mark": {"type": "text", "text": "eff", "fontSize": 11, "align": "left", "baseline": "alphabetic"},
   "encoding": {"x": {"datum": 4603, "type": "quantitative", "axis": null}, "y": {"datum": 0.0274, "type": "quantitative", "axis": null}}},
  {"data": {"values": [{}]}, "mark": {"type": "text", "text": "=", "fontSize": 16, "align": "left", "baseline": "alphabetic"},
   "encoding": {"x": {"datum": 4946, "type": "quantitative", "axis": null}, "y": {"datum": 0.0363, "type": "quantitative", "axis": null}}},
  {"data": {"values": [{}]}, "mark": {"type": "text", "text": "7364 K", "fontSize": 15.5, "align": "left", "baseline": "alphabetic"},
   "encoding": {"x": {"datum": 5217, "type": "quantitative", "axis": null}, "y": {"datum": 0.0363, "type": "quantitative", "axis": null}}},
  {"data": {"values": [{}]}, "mark": {"type": "text", "text": "log", "fontSize": 15.5, "align": "left", "baseline": "alphabetic"},
   "encoding": {"x": {"datum": 6237, "type": "quantitative", "axis": null}, "y": {"datum": 0.0363, "type": "quantitative", "axis": null}}},
  {"data": {"values": [{}]}, "mark": {"type": "text", "text": "g", "fontStyle": "italic", "fontSize": 16, "align": "left", "baseline": "alphabetic"},
   "encoding": {"x": {"datum": 6695, "type": "quantitative", "axis": null}, "y": {"datum": 0.0363, "type": "quantitative", "axis": null}}},
  {"data": {"values": [{}]}, "mark": {"type": "text", "text": "=", "fontSize": 16, "align": "left", "baseline": "alphabetic"},
   "encoding": {"x": {"datum": 6944, "type": "quantitative", "axis": null}, "y": {"datum": 0.0363, "type": "quantitative", "axis": null}}},
  {"data": {"values": [{}]}, "mark": {"type": "text", "text": "7.965", "fontSize": 15.5, "align": "left", "baseline": "alphabetic"},
   "encoding": {"x": {"datum": 7215, "type": "quantitative", "axis": null}, "y": {"datum": 0.0363, "type": "quantitative", "axis": null}}}
]}
]
}
